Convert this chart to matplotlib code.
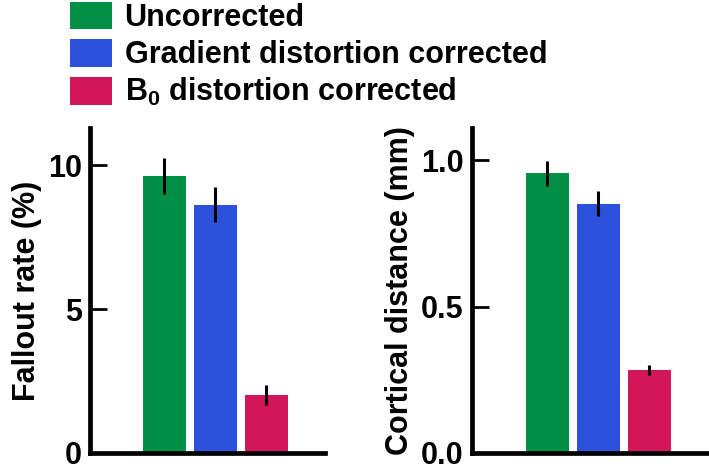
import matplotlib
matplotlib.use("Agg")
import matplotlib.pyplot as plt
from matplotlib.patches import Patch

plt.rcParams['font.family'] = ['Liberation Sans', 'DejaVu Sans']
plt.rcParams['font.weight'] = 'bold'
plt.rcParams['mathtext.fontset'] = 'custom'
plt.rcParams['mathtext.rm'] = 'Liberation Sans:bold'
plt.rcParams['mathtext.bf'] = 'Liberation Sans:bold'
plt.rcParams['mathtext.default'] = 'bf'

categories = ["Uncorrected", "Gradient distortion corrected", r"B$_0$ distortion corrected"]
colors = ["#008F45", "#2C52DD", "#D3155A"]

fallout = [9.63, 8.64, 2.02]
fallout_err = [0.62, 0.60, 0.35]
cortical = [0.955, 0.852, 0.282]
cortical_err = [0.043, 0.042, 0.017]

fig = plt.figure(figsize=(7.09, 4.66), dpi=100)
ax1 = fig.add_axes([90/709, 13/466, 235/709, 325/466])
ax2 = fig.add_axes([472/709, 13/466, 236/709, 325/466])

def draw(ax, vals, errs, ylim, ticks, ticklabels, ylabel, xlim):
    x = list(range(len(vals)))
    ax.bar(x, vals, width=0.843, color=colors)
    ax.errorbar(x, vals, yerr=errs, fmt='none', ecolor='black', elinewidth=2.2, capsize=0)
    ax.set_xlim(*xlim)
    ax.set_ylim(*ylim)
    ax.set_yticks(ticks)
    ax.set_yticklabels(ticklabels, fontsize=22, fontweight='bold')
    ax.set_xticks([])
    ax.set_ylabel(ylabel, fontsize=22, fontweight='bold', labelpad=4)
    for s in ['top', 'right']:
        ax.spines[s].set_visible(False)
    for s in ['left', 'bottom']:
        ax.spines[s].set_linewidth(3.4)
    ax.tick_params(axis='y', direction='in', length=12, width=2, pad=6)

draw(ax1, fallout, fallout_err, (0, 11.3), [0, 5, 10], ["0", "5", "10"], "Fallout rate (%)", (-1.457, 3.15))
draw(ax2, cortical, cortical_err, (0, 1.11), [0, 0.5, 1.0], ["0.0", "0.5", "1.0"], "Cortical distance (mm)", (-1.476, 3.15))

handles = [Patch(facecolor=c, edgecolor='none') for c in colors]
fig.legend(handles, categories, loc='upper left', bbox_to_anchor=(68/709, 1.0),
           frameon=False, handlelength=1.4, handleheight=1.02,
           labelspacing=0.2, handletextpad=0.4, borderaxespad=0, borderpad=0.05,
           prop={'weight': 'bold', 'size': 22})

fig.savefig("out.png", dpi=100)
